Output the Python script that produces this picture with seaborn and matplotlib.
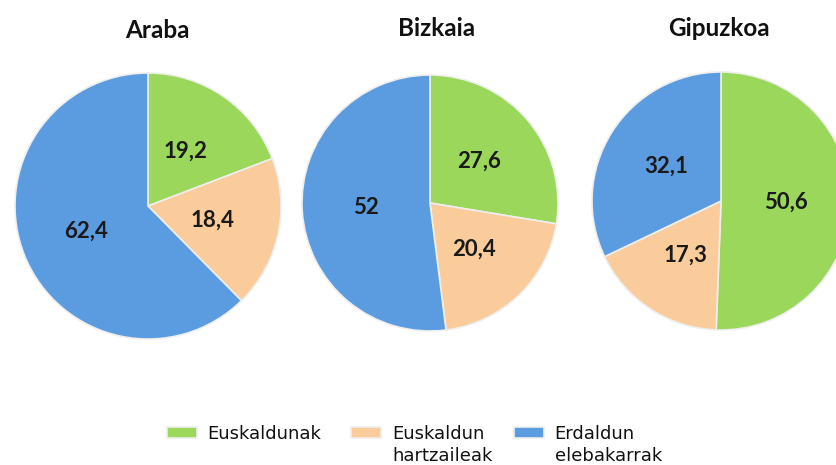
import matplotlib
matplotlib.use("Agg")
import matplotlib.pyplot as plt
import seaborn as sns

regions = ["Araba", "Bizkaia", "Gipuzkoa"]
categories = ["Euskaldunak", "Euskaldun\nhartzaileak", "Erdaldun\nelebakarrak"]
araba = [19.2, 18.4, 62.4]
bizkaia = [27.6, 20.4, 52.0]
gipuzkoa = [50.6, 17.3, 32.1]
colors = ["#9bd75a", "#facb9b", "#5b9be0"]

W, H = 836, 465
# pie centre x, centre y (from top), radius, in pixels
layout = [(148, 206, 133), (430, 203, 128), (721, 201, 129)]
title_pos = [(157, 30), (437, 28), (719, 28)]

sns.set_theme(style="white")
plt.rcParams["font.family"] = ["Lato", "DejaVu Sans"]

fig = plt.figure(figsize=(W / 100, H / 100), dpi=100)


def fmt(v):
    return f"{v:g}".replace(".", ",")


wedges0 = None
for name, vals, (cx, cy, r), (tx, ty) in zip(regions, [araba, bizkaia, gipuzkoa], layout, title_pos):
    ax = fig.add_axes([(cx - r) / W, (H - cy - r) / H, 2 * r / W, 2 * r / H])
    wedges, texts = ax.pie(
        vals, colors=colors, startangle=90, counterclock=False,
        labels=[fmt(v) for v in vals], labeldistance=0.5,
        wedgeprops=dict(edgecolor="#eeeeee", linewidth=1.2),
        textprops=dict(fontsize=16, fontweight="bold", color="#1a1a1a"),
    )
    for t in texts:
        t.set_ha("center")
        t.set_va("center")
    ax.set_xlim(-1, 1)
    ax.set_ylim(-1, 1)
    ax.axis("off")
    fig.text(tx / W, 1 - ty / H, name, ha="center", va="center",
             fontsize=17.5, fontweight="bold", color="#111111")
    if wedges0 is None:
        wedges0 = wedges

# legend: handles sit on the first line of each label, so the second
# line of the two-line labels is written under it separately
lfont = {"family": "DejaVu Sans", "size": 13}
first = [c.split("\n")[0] for c in categories]
leg = fig.legend(wedges0, first, loc="upper left",
                 bbox_to_anchor=(158 / W, 1 - 416 / H), ncol=3, frameon=False,
                 prop=lfont, handlelength=1.65, handleheight=0.55,
                 handletextpad=0.6, columnspacing=1.65, borderpad=0,
                 labelcolor="#111111")
fig.canvas.draw()
inv = fig.transFigure.inverted()
for txt, full in zip(leg.get_texts(), categories):
    parts = full.split("\n")
    if len(parts) < 2:
        continue
    bb = txt.get_window_extent()
    x0, y0 = inv.transform((bb.x0, bb.y0))
    fig.text(x0, y0 - 22 / H, parts[1], ha="left", va="bottom",
             color=txt.get_color(), fontfamily=lfont["family"], fontsize=lfont["size"])

fig.savefig("out.png", dpi=100)
